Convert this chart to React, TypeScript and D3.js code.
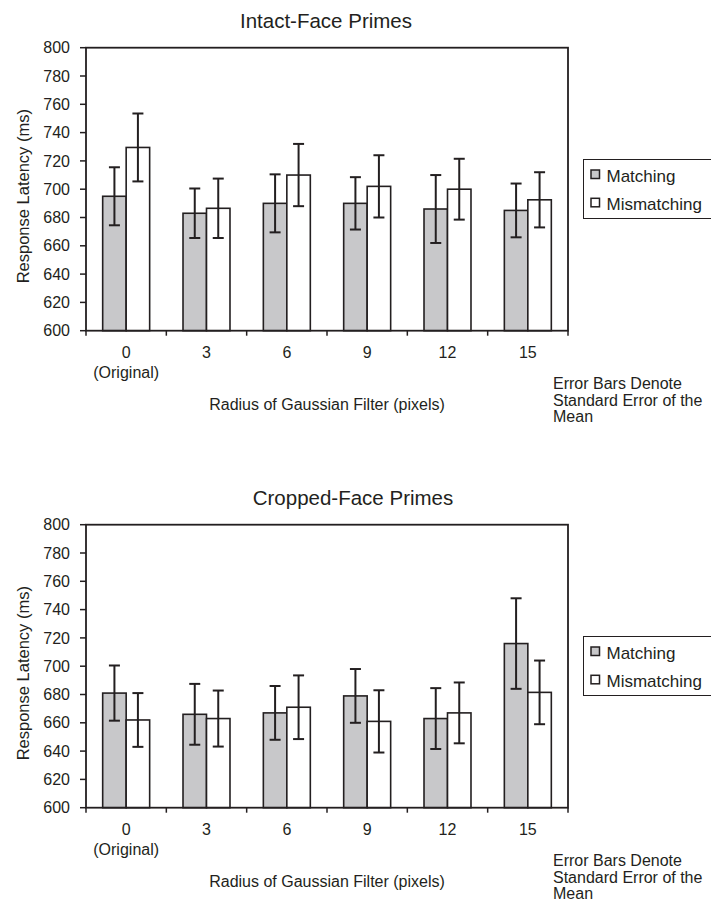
import React from 'react';
import * as d3 from 'd3';

const categories = ['0', '3', '6', '9', '12', '15'];
const series = ['Matching', 'Mismatching'];
const yTicks = [600, 620, 640, 660, 680, 700, 720, 740, 760, 780, 800];

// Intact-face primes
const intactMatching = [695, 683, 690, 690, 686, 685];
const intactMatchingErr = [20.5, 17.5, 20.5, 18.5, 24, 19];
const intactMismatching = [729.5, 686.5, 710, 702, 700, 692.5];
const intactMismatchingErr = [24, 21, 22, 22, 21.5, 19.5];

// Cropped-face primes
const croppedMatching = [681, 666, 667, 679, 663, 716];
const croppedMatchingErr = [19.5, 21.5, 19, 19, 21.5, 32];
const croppedMismatching = [662, 663, 671, 661, 667, 681.5];
const croppedMismatchingErr = [19, 19.8, 22.5, 22, 21.5, 22.5];

const FONT = "'Liberation Sans', Arial, Helvetica, sans-serif";
const INK = '#231f20';
const GRAY = '#c8c8ca';

const plot = { left: 86, right: 568, top: 47.7, bottom: 330.7 };

const x0 = d3.scaleBand().domain(categories).range([plot.left, plot.right]).padding(0);
const x1 = d3
  .scaleBand()
  .domain(series)
  .range([0, x0.bandwidth()])
  .paddingInner(0)
  .paddingOuter(0.71);
const y = d3.scaleLinear().domain([600, 800]).range([plot.bottom, plot.top]);
const color = d3.scaleOrdinal<string, string>().domain(series).range([GRAY, '#ffffff']);

function Panel({ title, titleX, values, errors, offsetY }) {
  return (
    <g transform={`translate(0,${offsetY})`} fontFamily={FONT} fill={INK}>
      <text x={titleX} y={28.3} textAnchor="middle" fontSize={20.5}>
        {title}
      </text>

      {/* bars */}
      {categories.map((c, i) => (
        <g key={c} transform={`translate(${x0(c)},0)`}>
          {series.map((s, k) => {
            const v = values[k][i];
            const e = errors[k][i];
            const bx = x1(s);
            const bw = x1.bandwidth();
            const cx = bx + bw / 2;
            return (
              <g key={s}>
                <rect
                  x={bx}
                  y={y(v)}
                  width={bw}
                  height={y(600) - y(v)}
                  fill={color(s)}
                  stroke={INK}
                  strokeWidth={1.6}
                />
                <line x1={cx} x2={cx} y1={y(v + e)} y2={y(v - e)} stroke={INK} strokeWidth={2} />
                <line x1={cx - 5.5} x2={cx + 5.5} y1={y(v + e)} y2={y(v + e)} stroke={INK} strokeWidth={2} />
                <line x1={cx - 5.5} x2={cx + 5.5} y1={y(v - e)} y2={y(v - e)} stroke={INK} strokeWidth={2} />
              </g>
            );
          })}
        </g>
      ))}

      {/* frame */}
      <rect
        x={plot.left}
        y={plot.top}
        width={plot.right - plot.left}
        height={plot.bottom - plot.top}
        fill="none"
        stroke={INK}
        strokeWidth={1.8}
      />

      {/* y axis */}
      {yTicks.map((t) => (
        <g key={t}>
          <line x1={plot.left - 6} x2={plot.left} y1={y(t)} y2={y(t)} stroke={INK} strokeWidth={1.5} />
          <text x={70} y={y(t)} dy="0.35em" textAnchor="end" fontSize={16}>
            {t}
          </text>
        </g>
      ))}
      <text
        transform={`translate(29,${(plot.top + plot.bottom) / 2 + 7}) rotate(-90)`}
        textAnchor="middle"
        fontSize={16.5}
      >
        Response Latency (ms)
      </text>

      {/* x axis */}
      {[...categories.map((c) => x0(c)), plot.right].map((px, i) => (
        <line key={i} x1={px} x2={px} y1={plot.bottom} y2={plot.bottom + 5} stroke={INK} strokeWidth={1.5} />
      ))}
      {categories.map((c) => (
        <text key={c} x={x0(c) + x0.bandwidth() / 2} y={358} textAnchor="middle" fontSize={16}>
          {c}
        </text>
      ))}
      <text x={x0(categories[0]) + x0.bandwidth() / 2} y={378} textAnchor="middle" fontSize={16}>
        (Original)
      </text>
      <text x={327} y={410} textAnchor="middle" fontSize={16}>
        Radius of Gaussian Filter (pixels)
      </text>

      {/* legend */}
      <rect x={583.5} y={159.5} width={140} height={59} fill="#fff" stroke={INK} strokeWidth={1} />
      {series.map((s, k) => (
        <g key={s}>
          <rect
            x={591}
            y={170 + k * 28.3}
            width={8.5}
            height={8.5}
            fill={color(s)}
            stroke={INK}
            strokeWidth={1.5}
          />
          <text x={606.5} y={181.5 + k * 28.3} fontSize={17}>
            {s}
          </text>
        </g>
      ))}

      {/* note */}
      <text x={553} y={389} fontSize={16}>
        <tspan x={553}>Error Bars Denote</tspan>
        <tspan x={553} dy={16.5}>
          Standard Error of the
        </tspan>
        <tspan x={553} dy={16.5}>
          Mean
        </tspan>
      </text>
    </g>
  );
}

export default function App() {
  return (
    <svg
      width={711}
      height={904}
      viewBox="0 0 711 904"
      style={{ position: 'absolute', left: 0, top: 0, background: '#fff' }}
    >
      <rect width={711} height={904} fill="#fff" />
      <Panel
        title="Intact-Face Primes"
        titleX={326}
        values={[intactMatching, intactMismatching]}
        errors={[intactMatchingErr, intactMismatchingErr]}
        offsetY={0}
      />
      <Panel
        title="Cropped-Face Primes"
        titleX={353}
        values={[croppedMatching, croppedMismatching]}
        errors={[croppedMatchingErr, croppedMismatchingErr]}
        offsetY={477}
      />
    </svg>
  );
}
